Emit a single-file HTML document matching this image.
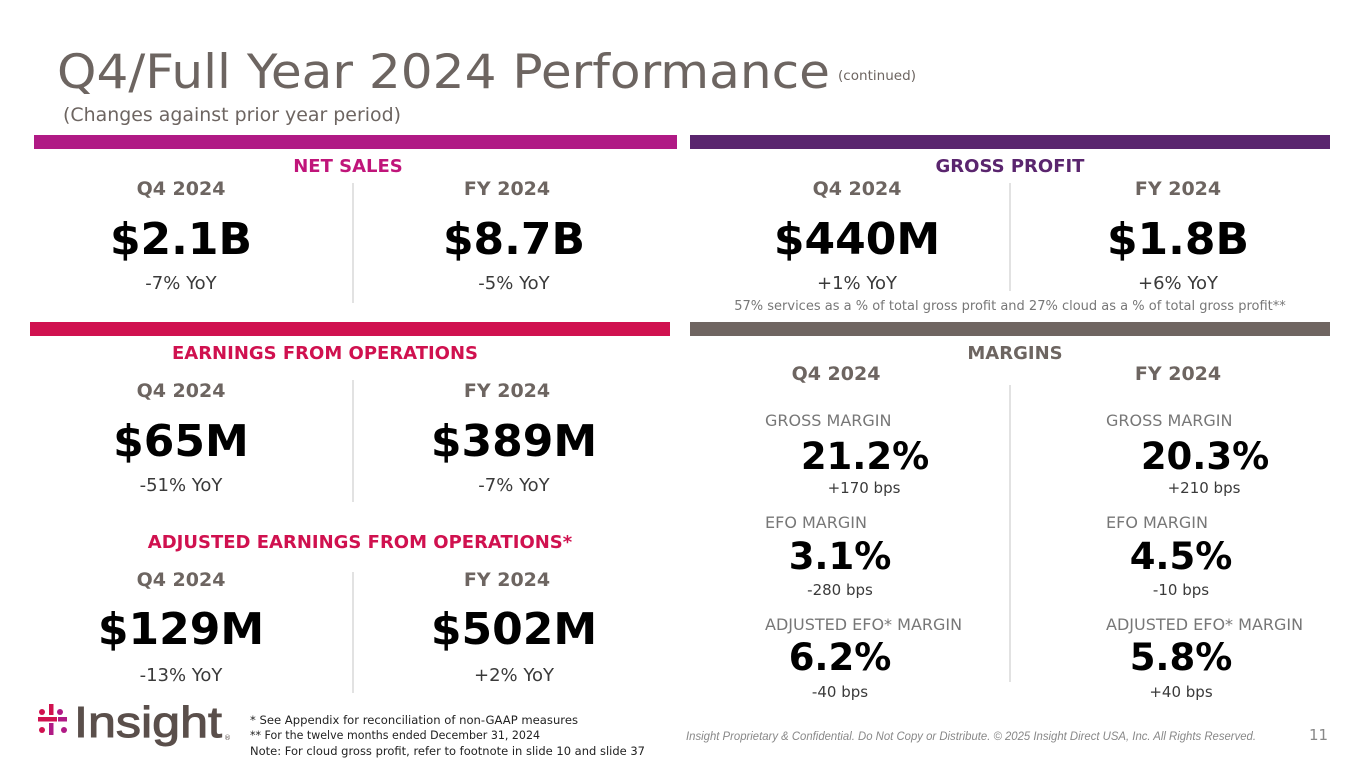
<!DOCTYPE html>
<html><head><meta charset="utf-8"><style>
html,body{margin:0;padding:0;background:#fff;}
svg{display:block;font-family:"DejaVu Sans","Liberation Sans",sans-serif;}
.h{font-weight:bold;font-size:18px;}
.q{font-weight:bold;font-size:19px;fill:#6d6561;}
.v{font-weight:bold;font-size:44px;fill:#000;}
.y{font-size:18px;fill:#3a3a3a;}
.ml{font-size:16px;fill:#777;}
.mv{font-weight:bold;font-size:37px;fill:#000;}
.mb{font-size:15px;fill:#3a3a3a;}
</style></head><body>
<svg width="1365" height="768" viewBox="0 0 1365 768">
<text x="57" y="88" font-size="47" fill="#6d6561" textLength="773" lengthAdjust="spacingAndGlyphs">Q4/Full Year 2024 Performance</text>
<text x="838" y="80" font-size="13" fill="#6d6561" textLength="78" lengthAdjust="spacingAndGlyphs">(continued)</text>
<text x="63" y="121" font-size="19" fill="#6d6561" textLength="338" lengthAdjust="spacingAndGlyphs">(Changes against prior year period)</text>

<rect x="34" y="135" width="643" height="14" fill="#b01a85"/>
<rect x="690" y="135" width="640" height="14" fill="#5a256e"/>
<rect x="30" y="322" width="640" height="14" fill="#d0114f"/>
<rect x="690" y="322" width="640" height="14" fill="#6f6561"/>

<g text-anchor="middle">
<text class="h" x="348" y="172" fill="#c0157a">NET SALES</text>
<text class="h" x="1010" y="172" fill="#5a256e">GROSS PROFIT</text>
<text class="q" x="181" y="195">Q4 2024</text>
<text class="q" x="507" y="195">FY 2024</text>
<text class="q" x="857" y="195">Q4 2024</text>
<text class="q" x="1178" y="195">FY 2024</text>
<text class="v" x="181" y="254">$2.1B</text>
<text class="v" x="514" y="254">$8.7B</text>
<text class="v" x="857" y="254">$440M</text>
<text class="v" x="1178" y="254">$1.8B</text>
<text class="y" x="181" y="289">-7% YoY</text>
<text class="y" x="514" y="289">-5% YoY</text>
<text class="y" x="857" y="289">+1% YoY</text>
<text class="y" x="1178" y="289">+6% YoY</text>
<text x="1010" y="310" font-size="13" fill="#777">57% services as a % of total gross profit and 27% cloud as a % of total gross profit**</text>

<text class="h" x="325" y="359" fill="#d0114f">EARNINGS FROM OPERATIONS</text>
<text class="h" x="1015" y="359" fill="#6d6561">MARGINS</text>
<text class="q" x="181" y="397">Q4 2024</text>
<text class="q" x="507" y="397">FY 2024</text>
<text class="v" x="181" y="456">$65M</text>
<text class="v" x="514" y="456">$389M</text>
<text class="y" x="181" y="491">-51% YoY</text>
<text class="y" x="514" y="491">-7% YoY</text>

<text class="h" x="360" y="548" fill="#d0114f">ADJUSTED EARNINGS FROM OPERATIONS*</text>
<text class="q" x="181" y="586">Q4 2024</text>
<text class="q" x="507" y="586">FY 2024</text>
<text class="v" x="181" y="644">$129M</text>
<text class="v" x="514" y="644">$502M</text>
<text class="y" x="181" y="681">-13% YoY</text>
<text class="y" x="514" y="681">+2% YoY</text>

<text class="q" x="836" y="380">Q4 2024</text>
<text class="q" x="1178" y="380">FY 2024</text>

<text class="mv" x="865" y="469">21.2%</text>
<text class="mv" x="1205" y="469">20.3%</text>
<text class="mb" x="864" y="493">+170 bps</text>
<text class="mb" x="1204" y="493">+210 bps</text>
<text class="mv" x="840" y="569">3.1%</text>
<text class="mv" x="1181" y="569">4.5%</text>
<text class="mb" x="840" y="595">-280 bps</text>
<text class="mb" x="1181" y="595">-10 bps</text>
<text class="mv" x="840" y="670">6.2%</text>
<text class="mv" x="1181" y="670">5.8%</text>
<text class="mb" x="840" y="697">-40 bps</text>
<text class="mb" x="1181" y="697">+40 bps</text>
</g>

<text class="ml" x="765" y="426">GROSS MARGIN</text>
<text class="ml" x="1106" y="426">GROSS MARGIN</text>
<text class="ml" x="765" y="528">EFO MARGIN</text>
<text class="ml" x="1106" y="528">EFO MARGIN</text>
<text class="ml" x="765" y="630">ADJUSTED EFO* MARGIN</text>
<text class="ml" x="1106" y="630">ADJUSTED EFO* MARGIN</text>

<g stroke="#d9d9d9" stroke-width="1.5">
<line x1="353" y1="183" x2="353" y2="303"/>
<line x1="1010" y1="183" x2="1010" y2="291"/>
<line x1="353" y1="380" x2="353" y2="502"/>
<line x1="353" y1="572" x2="353" y2="693"/>
<line x1="1010" y1="385" x2="1010" y2="682"/>
</g>

<g>
<circle cx="42" cy="712" r="3" fill="#d0114f"/>
<rect x="38" y="717" width="19" height="4.5" fill="#d0114f"/>
<circle cx="42" cy="730" r="3" fill="#d0114f"/>
<rect x="49" y="704" width="4.5" height="11" fill="#d0114f"/>
<rect x="49" y="723" width="4.5" height="12" fill="#b01a85"/>
<rect x="58" y="717" width="9" height="4.5" fill="#b01a85"/>
<circle cx="64" cy="730" r="3" fill="#b01a85"/>
<circle cx="60" cy="712" r="3" fill="#b01a85"/>
<text x="74" y="737" font-size="44" fill="#5a4f4b" stroke="#5a4f4b" stroke-width="1" font-family="Liberation Sans, sans-serif" textLength="148" lengthAdjust="spacingAndGlyphs">Insight</text>
<text x="224" y="740" font-size="7" fill="#5a4f4b">®</text>
</g>

<g font-size="11.5" fill="#222">
<text x="250" y="724" textLength="328" lengthAdjust="spacingAndGlyphs">*  See Appendix for reconciliation of non-GAAP measures</text>
<text x="250" y="739" textLength="290" lengthAdjust="spacingAndGlyphs">** For the twelve months ended December 31, 2024</text>
<text x="250" y="755" textLength="395" lengthAdjust="spacingAndGlyphs">Note: For cloud gross profit, refer to footnote in slide 10 and slide 37</text>
</g>
<text x="686" y="740" font-size="11.5" font-style="italic" fill="#888" font-family="Liberation Sans, sans-serif" textLength="570" lengthAdjust="spacingAndGlyphs">Insight Proprietary &amp; Confidential. Do Not Copy or Distribute. © 2025 Insight Direct USA, Inc. All Rights Reserved.</text>
<text x="1309" y="740" font-size="15" fill="#888">11</text>
</svg>
</body></html>
